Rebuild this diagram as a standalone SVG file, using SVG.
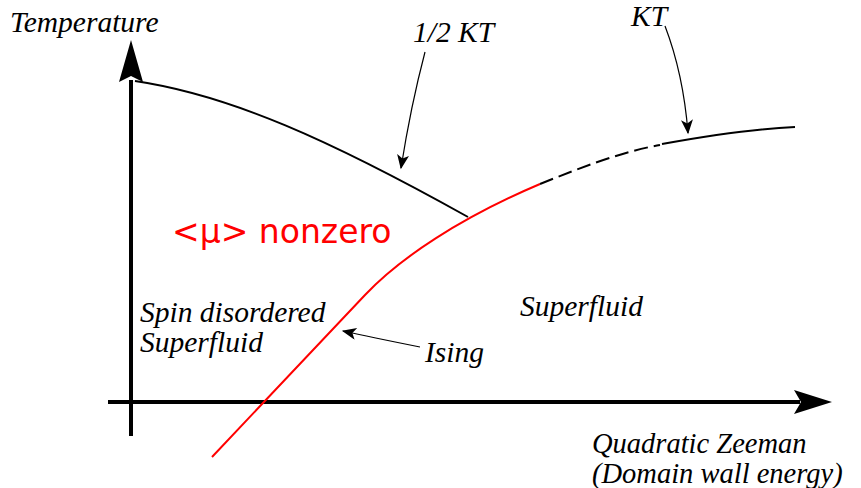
<svg xmlns="http://www.w3.org/2000/svg" width="861" height="488" viewBox="0 0 861 488">
<style>
.lbl{font-family:"Liberation Serif","DejaVu Serif",serif;font-style:italic;font-size:29.5px;fill:#000}
.ax{stroke:#000;stroke-width:4;fill:none}
.thin{stroke:#000;stroke-width:1.2;fill:none}
.curve{stroke:#000;stroke-width:2;fill:none}
</style>
<defs>
<marker id="smArrow" viewBox="0 0 12 10" refX="11" refY="5" markerWidth="18" markerHeight="12" markerUnits="userSpaceOnUse" orient="auto">
<path d="M0,0 L12,5 L0,10 L3,5 Z" fill="#000"/>
</marker>
</defs>
<rect width="861" height="488" fill="#fff"/>
<g id="axes">
<line class="ax" x1="131" y1="436" x2="131" y2="80"/>
<path d="M131,40 L143,82 L131,76 L119,82 Z" fill="#000"/>
<line class="ax" x1="108" y1="402" x2="800" y2="402"/>
<path d="M832,402 L794,414 L801,402 L794,390 Z" fill="#000"/>
</g>
<g id="connectors">
<path class="curve" d="M135,81 C230,95 330,140 468,217"/>
<path d="M212,457 L365,295 C400,258 460,218 540,184" stroke="#f00" stroke-width="2" fill="none"/>
<path class="curve" d="M540,184 C580,168 620,152 660,145" stroke-dasharray="14,6"/>
<path class="curve" d="M662,144 C700,137 750,129 795,127"/>
<path class="thin" d="M425,52 C415,90 407,130 401,168" marker-end="url(#smArrow)"/>
<path class="thin" d="M665,26 C678,60 685,95 688,133" marker-end="url(#smArrow)"/>
<path class="thin" d="M420,347 C395,342 370,337 343,331" marker-end="url(#smArrow)"/>
</g>
<g id="labels">
<text class="lbl" x="10" y="32">Temperature</text>
<text class="lbl" x="413" y="42">1/2 KT</text>
<text class="lbl" x="631" y="26">KT</text>
<text x="172" y="243" font-family="DejaVu Sans,sans-serif" font-size="33" fill="#f00">&lt;μ&gt; nonzero</text>
<text class="lbl" x="140" y="322">Spin disordered</text>
<text class="lbl" x="140" y="352">Superfluid</text>
<text class="lbl" x="520" y="316">Superfluid</text>
<text class="lbl" x="425" y="362">Ising</text>
<text class="lbl" x="592" y="453" style="font-size:28.5px">Quadratic Zeeman</text>
<text class="lbl" x="592" y="483" style="font-size:28.5px">(Domain wall energy)</text>
</g>
</svg>
